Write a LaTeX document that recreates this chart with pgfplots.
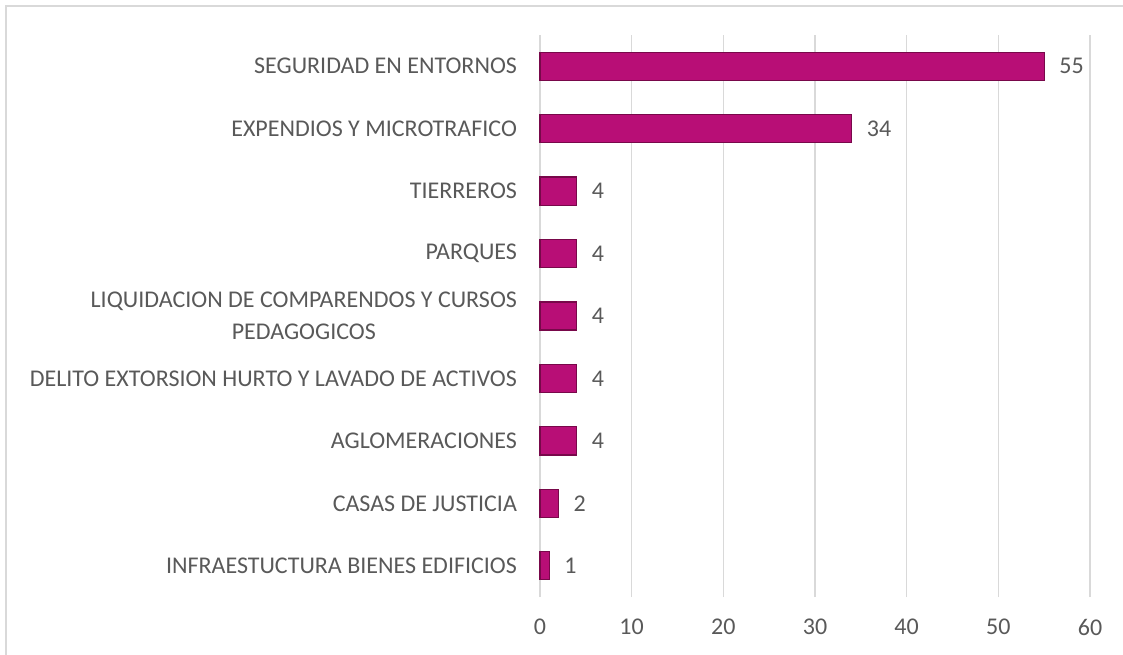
\documentclass[border=0pt]{standalone}
\usepackage{pgfplots}
\pgfplotsset{compat=1.18}
\usepackage{fontspec}
\setmainfont{Carlito}
\definecolor{barmid}{RGB}{184,14,118}
\definecolor{barbot}{RGB}{120,8,74}
\definecolor{txt}{RGB}{89,89,89}
\definecolor{grd}{RGB}{217,217,217}
\begin{document}
\begin{tikzpicture}
\useasboundingbox (-270pt,-28.5pt) rectangle (291.5pt,298.5pt);
\draw[grd, line width=0.75pt] (-267pt,-30pt) -- (-267pt,295.5pt) -- (295pt,295.5pt);
\begin{axis}[
  at={(0,0)}, anchor=south west,
  scale only axis,
  width=275pt, height=281pt,
  xbar, bar width=0.45,
  xmin=0, xmax=60,
  ymin=-0.5, ymax=8.5,
  xtick={0,10,...,60},
  ytick={0,...,8},
  yticklabels={
    INFRAESTUCTURA BIENES EDIFICIOS,
    CASAS DE JUSTICIA,
    AGLOMERACIONES,
    DELITO EXTORSION HURTO Y LAVADO DE ACTIVOS,
    {LIQUIDACION DE COMPARENDOS Y CURSOS\\PEDAGOGICOS},
    PARQUES,
    TIERREROS,
    EXPENDIOS Y MICROTRAFICO,
    SEGURIDAD EN ENTORNOS},
  axis line style={draw=none},
  major tick length=0pt,
  xmajorgrids,
  grid style={grd, line width=0.75pt},
  font=\fontsize{12}{16}\selectfont,
  /pgf/number format/assume math mode=true,
  ticklabel style={text=txt},
  yticklabel style={align=center, xshift=-8pt},
  xticklabel style={yshift=-7.5pt},
  nodes near coords,
  nodes near coords style={text=txt, anchor=west, xshift=4pt},
  clip=false,
]
\addplot[draw=barbot, line width=0.6pt, fill=barmid] coordinates {
  (1,0) (2,1) (4,2) (4,3) (4,4) (4,5) (4,6) (34,7) (55,8)
};
\end{axis}
\end{tikzpicture}
\end{document}
